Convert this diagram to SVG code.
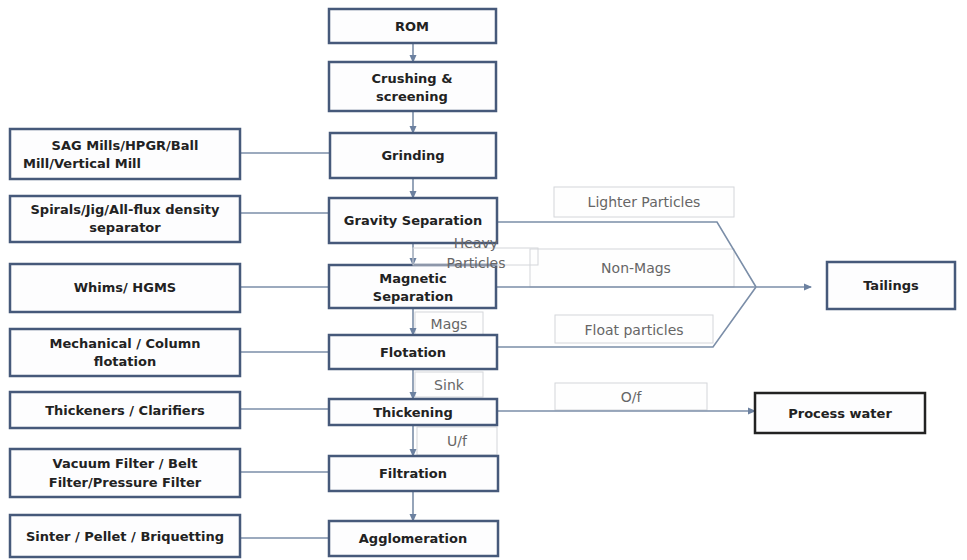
<svg xmlns="http://www.w3.org/2000/svg" width="967" height="560" viewBox="0 0 967 560">
<style>
.n rect{fill:#fdfdfe;stroke:#46597a;stroke-width:2.5}
.n text{font-family:"DejaVu Sans",sans-serif;font-weight:bold;font-size:13px;fill:#222;text-anchor:middle}
.l rect{fill:#fefefe;stroke:#d4d6da;stroke-width:1}
.l text{font-family:"DejaVu Sans",sans-serif;font-size:14px;fill:#666;text-anchor:middle}
.c line,.c polyline{stroke:#7b8ea8;stroke-width:1.6;fill:none}
.c .a{marker-end:url(#ah)}
</style>
<defs>
<marker id="ah" markerWidth="8" markerHeight="8" refX="7" refY="4" orient="auto" markerUnits="userSpaceOnUse">
<path d="M0,0.5 L8,4 L0,7.5 Z" fill="#6c81a0"/>
</marker>
</defs>
<rect width="967" height="560" fill="#ffffff"/>
<g id="labels" class="l">
<g id="lbl-lighter"><rect x="554" y="187" width="180" height="30"/><text x="644" y="207">Lighter Particles</text></g>
<g id="lbl-nonmags"><rect x="530" y="249" width="204" height="38"/><text x="636" y="273">Non-Mags</text></g>
<g id="lbl-mags"><rect x="415" y="312" width="68" height="23"/><text x="449" y="329">Mags</text></g>
<g id="lbl-float"><rect x="555" y="315" width="158" height="28"/><text x="634" y="335">Float particles</text></g>
<g id="lbl-sink"><rect x="415" y="372" width="68" height="25"/><text x="449" y="390">Sink</text></g>
<g id="lbl-of"><rect x="555" y="383" width="152" height="27"/><text x="631" y="402">O/f</text></g>
<g id="lbl-uf"><rect x="417" y="427" width="80" height="28"/><text x="457" y="446">U/f</text></g>
</g>
<g id="connectors" class="c">
<line class="a" x1="413" y1="43" x2="413" y2="62"/>
<line class="a" x1="413" y1="111" x2="413" y2="133"/>
<line class="a" x1="413" y1="178" x2="413" y2="198"/>
<line class="a" x1="413" y1="243" x2="413" y2="265"/>
<line class="a" x1="413" y1="308" x2="413" y2="335"/>
<line class="a" x1="413" y1="369" x2="413" y2="399"/>
<line class="a" x1="413" y1="425" x2="413" y2="456"/>
<line class="a" x1="413" y1="491" x2="413" y2="521"/>
<line x1="240" y1="153" x2="330" y2="153"/>
<line x1="240" y1="213" x2="330" y2="213"/>
<line x1="240" y1="287" x2="330" y2="287"/>
<line x1="240" y1="352" x2="330" y2="352"/>
<line x1="240" y1="409" x2="330" y2="409"/>
<line x1="240" y1="472" x2="330" y2="472"/>
<line x1="240" y1="538" x2="330" y2="538"/>
<polyline points="497,222 717,222 756,287"/>
<line x1="497" y1="287" x2="756" y2="287"/>
<polyline points="497,347 713,347 756,287"/>
<line class="a" x1="756" y1="287" x2="811" y2="287"/>
<line class="a" x1="497" y1="411" x2="755" y2="411"/>
</g>
<g id="rom" class="n"><rect x="329" y="9" width="167" height="34"/><text x="412" y="31">ROM</text></g>
<g id="crushing" class="n"><rect x="329" y="62" width="167" height="49"/><text x="412" y="83">Crushing &amp;</text><text x="412" y="101">screening</text></g>
<g id="grinding" class="n"><rect x="330" y="133" width="166" height="45"/><text x="413" y="160">Grinding</text></g>
<g id="gravity" class="n"><rect x="329" y="198" width="168" height="45"/><text x="413" y="225">Gravity Separation</text></g>
<g id="magnetic" class="n"><rect x="329" y="265" width="167" height="43"/><text x="413" y="283">Magnetic</text><text x="413" y="301">Separation</text></g>
<g id="flotation" class="n"><rect x="329" y="335" width="168" height="34"/><text x="413" y="357">Flotation</text></g>
<g id="thickening" class="n"><rect x="329" y="399" width="168" height="26"/><text x="413" y="417">Thickening</text></g>
<g id="filtration" class="n"><rect x="329" y="456" width="169" height="35"/><text x="413" y="478">Filtration</text></g>
<g id="agglomeration" class="n"><rect x="329" y="521" width="169" height="35"/><text x="413" y="543">Agglomeration</text></g>
<g id="sag" class="n"><rect x="10" y="129" width="230" height="50"/><text x="125" y="150">SAG Mills/HPGR/Ball</text><text x="82" y="168">Mill/Vertical Mill</text></g>
<g id="spirals" class="n"><rect x="10" y="196" width="230" height="46"/><text x="125" y="214">Spirals/Jig/All-flux density</text><text x="125" y="232">separator</text></g>
<g id="whims" class="n"><rect x="10" y="264" width="230" height="48"/><text x="125" y="292">Whims/ HGMS</text></g>
<g id="mechanical" class="n"><rect x="10" y="329" width="230" height="47"/><text x="125" y="348">Mechanical / Column</text><text x="125" y="366">flotation</text></g>
<g id="thickeners" class="n"><rect x="10" y="392" width="230" height="36"/><text x="125" y="415">Thickeners / Clarifiers</text></g>
<g id="vacuum" class="n"><rect x="10" y="449" width="230" height="48"/><text x="125" y="468">Vacuum Filter / Belt</text><text x="125" y="487">Filter/Pressure Filter</text></g>
<g id="sinter" class="n"><rect x="10" y="515" width="230" height="42"/><text x="125" y="541">Sinter / Pellet / Briquetting</text></g>
<g id="tailings" class="n"><rect x="827" y="262" width="128" height="47"/><text x="891" y="290">Tailings</text></g>
<g id="processwater" class="n"><rect x="755" y="393" width="170" height="40" style="stroke:#222"/><text x="840" y="418">Process water</text></g>
<g id="lbl-heavy" class="l"><rect x="413" y="248" width="125" height="17" style="fill:none"/><text x="476" y="248">Heavy</text><text x="476" y="268">Particles</text></g>
</svg>
